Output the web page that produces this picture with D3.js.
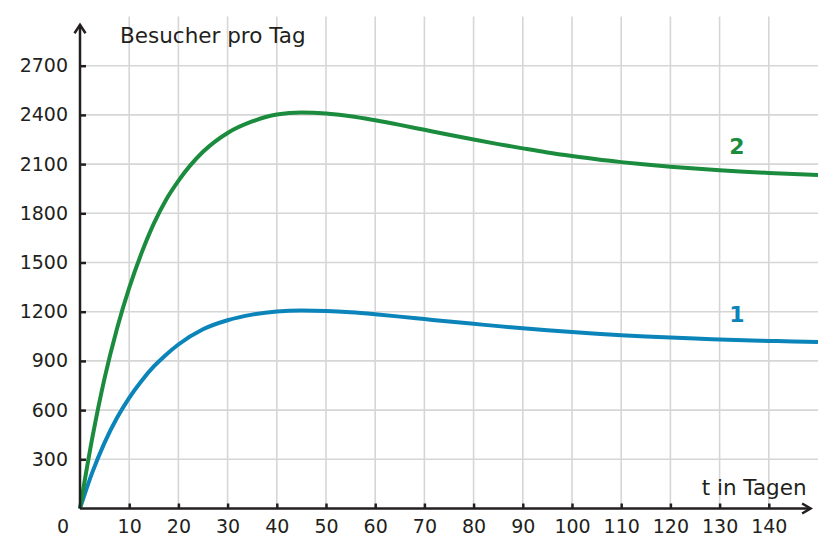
<!DOCTYPE html>
<html>
<head>
<meta charset="utf-8">
<script src="https://cdn.jsdelivr.net/npm/d3@7"></script>
<style>
  body { margin: 0; background: #fff; }
  svg { display: block; font-family: "DejaVu Sans", sans-serif; }
</style>
</head>
<body>
<svg id="chart"></svg>
<script>
const days = [0, 2.5, 5, 7.5, 10, 12.5, 15, 17.5, 20, 25, 30, 35, 40, 45, 50, 55, 60, 65, 70, 75, 80, 85, 90, 95, 100, 105, 110, 115, 120, 125, 130, 135, 140, 145, 150]
// visitors per day, curve 1 (blue)
const visitors1 = [0, 220, 402, 552, 675, 778, 866, 938, 1000, 1093, 1148, 1182, 1201, 1207, 1204, 1196, 1184, 1170, 1155, 1140, 1126, 1112, 1099, 1087, 1076, 1066, 1057, 1049, 1042, 1036, 1031, 1026, 1022, 1018, 1015]
// visitors per day, curve 2 (green)
const visitors2 = [0, 430, 795, 1095, 1345, 1557, 1737, 1883, 1998, 2175, 2290, 2360, 2402, 2414, 2409, 2392, 2367, 2339, 2309, 2279, 2250, 2222, 2196, 2171, 2149, 2129, 2112, 2097, 2084, 2073, 2063, 2054, 2046, 2039, 2033]

const xTicks = [10, 20, 30, 40, 50, 60, 70, 80, 90, 100, 110, 120, 130, 140]
const yTicks = [300, 600, 900, 1200, 1500, 1800, 2100, 2400, 2700]

const seriesNames = ['1', '2']
const seriesColours = ['#0a84b9', '#1b8c3e']

const width = 835
const height = 557
const margin = { top: 16.5, right: 17, bottom: 48.5, left: 80 }

const axisColour = '#231f20'
const gridColour = '#d6d6d6'

const svg = d3.select('#chart')
  .attr('width', width)
  .attr('height', height)

/// Scales ///
const xScale = d3.scaleLinear()
  .domain([0, 150])
  .range([margin.left, width - margin.right])

const yScale = d3.scaleLinear()
  .domain([0, 3000])
  .range([height - margin.bottom, margin.top])

/// Grid ///
const grid = svg.append('g').attr('class', 'grid')
  .attr('stroke', gridColour)
  .attr('stroke-width', 1.6)

grid.selectAll('.v-line')
  .data(xTicks)
  .join('line')
  .attr('class', 'v-line')
  .attr('x1', d => xScale(d)).attr('x2', d => xScale(d))
  .attr('y1', yScale(0)).attr('y2', yScale(3000))

grid.selectAll('.h-line')
  .data(yTicks)
  .join('line')
  .attr('class', 'h-line')
  .attr('x1', xScale(0)).attr('x2', xScale(150))
  .attr('y1', d => yScale(d)).attr('y2', d => yScale(d))

/// Curves ///
// monotoneX uses the real day spacing, so the step change at day 20 stays smooth
const line = d3.line()
  .x(d => xScale(d[0]))
  .y(d => yScale(d[1]))
  .curve(d3.curveMonotoneX)

const series = [visitors1, visitors2].map((vals, i) => ({
  name: seriesNames[i],
  colour: seriesColours[i],
  points: days.map((t, j) => [t, vals[j]])
}))

svg.append('g').selectAll('path')
  .data(series)
  .join('path')
  .attr('d', d => line(d.points))
  .attr('fill', 'none')
  .attr('stroke', d => d.colour)
  .attr('stroke-width', 4)
  .attr('stroke-linejoin', 'round')

// curve numbers
svg.append('g').selectAll('text')
  .data(series)
  .join('text')
  .attr('x', xScale(133.5))
  .attr('y', (d, i) => i === 0 ? yScale(1140) : yScale(2160))
  .attr('text-anchor', 'middle')
  .attr('font-size', '22px')
  .attr('font-weight', 'bold')
  .attr('fill', d => d.colour)
  .text(d => d.name)

/// Axes ///
const xAxis = g => g
  .attr('transform', `translate(0, ${yScale(0)})`)
  .call(d3.axisBottom(xScale)
    .tickValues(xTicks)
    .tickFormat(d3.format('d'))
    .tickSize(-5)
    .tickPadding(11.5))
  .call(g => g.select('.domain').remove())
  .call(g => g.selectAll('.tick line').attr('stroke', axisColour).attr('stroke-width', 2.5))
  .call(g => g.selectAll('text').attr('font-size', '19px').attr('fill', axisColour).attr('font-family', 'DejaVu Sans'))

const yAxis = g => g
  .attr('transform', `translate(${xScale(0)}, 0)`)
  .call(d3.axisLeft(yScale)
    .tickValues(yTicks)
    .tickFormat(d3.format('d'))
    .tickSize(-6)
    .tickPadding(12))
  .call(g => g.select('.domain').remove())
  .call(g => g.selectAll('.tick line').attr('stroke', axisColour).attr('stroke-width', 2.5))
  .call(g => g.selectAll('text').attr('font-size', '19px').attr('fill', axisColour).attr('font-family', 'DejaVu Sans'))

svg.append('g').call(xAxis)
svg.append('g').call(yAxis)

// axis lines with open arrow heads
const x0 = xScale(0), y0 = yScale(0)
const xTip = xScale(148.5), yTip = yScale(2950)
const arrows = svg.append('g')
  .attr('fill', 'none')
  .attr('stroke', axisColour)
  .attr('stroke-width', 2.5)
  .attr('stroke-linecap', 'butt')
  .attr('stroke-linejoin', 'miter')

arrows.append('path').attr('d', `M${x0},${y0}V${yTip}`)
arrows.append('path').attr('d', `M${x0 - 5.5},${yTip + 8.5}L${x0},${yTip}L${x0 + 5.5},${yTip + 8.5}`)
arrows.append('path').attr('d', `M${x0},${y0}H${xTip}`)
arrows.append('path').attr('d', `M${xTip - 8.5},${y0 - 5}L${xTip},${y0}L${xTip - 8.5},${y0 + 5}`)

// zero at the origin
svg.append('text')
  .attr('x', x0 - 17)
  .attr('y', y0 + 11.5)
  .attr('dy', '0.71em')
  .attr('text-anchor', 'middle')
  .attr('font-size', '19px')
  .attr('fill', axisColour)
  .text('0')

/// Axis titles ///
svg.append('text')
  .attr('x', x0 + 40)
  .attr('y', 42.5)
  .attr('font-size', '21.5px')
  .attr('fill', axisColour)
  .text('Besucher pro Tag')

svg.append('text')
  .attr('x', xTip - 4)
  .attr('y', y0 - 14)
  .attr('text-anchor', 'end')
  .attr('font-size', '21.5px')
  .attr('fill', axisColour)
  .text('t in Tagen')
</script>
</body>
</html>
